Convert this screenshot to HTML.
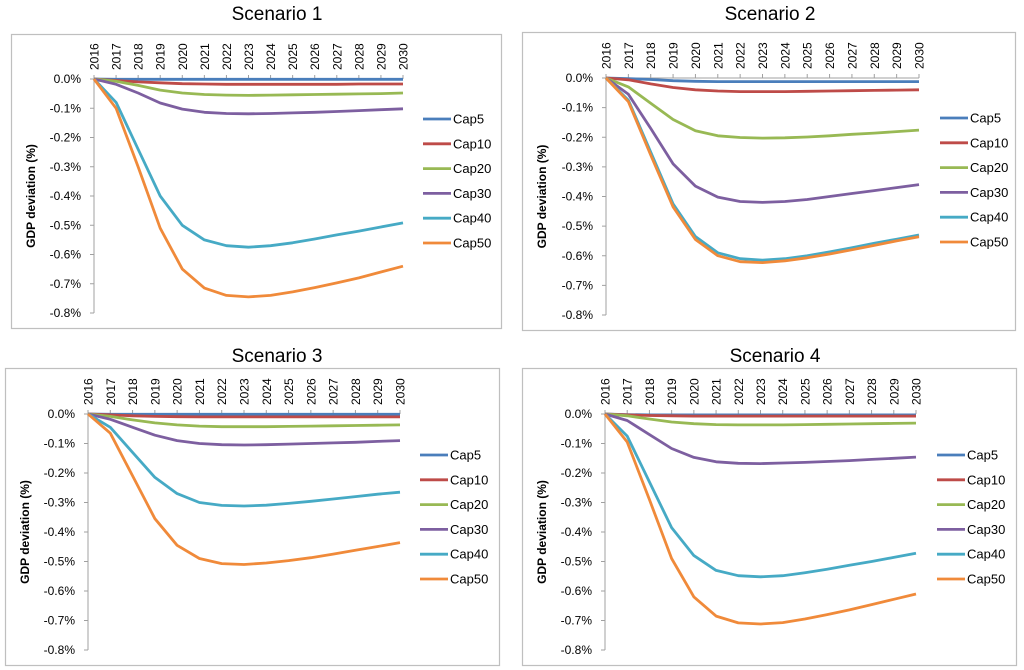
<!DOCTYPE html>
<html><head><meta charset="utf-8"><style>
body{margin:0;background:#fff;width:1024px;height:670px;overflow:hidden}
svg{display:block;font-family:"Liberation Sans",sans-serif}
</style></head><body>
<svg id="chart" width="1024" height="670"></svg>
<script>
const years=[2016,2017,2018,2019,2020,2021,2022,2023,2024,2025,2026,2027,2028,2029,2030];
const seriesNames=["Cap5","Cap10","Cap20","Cap30","Cap40","Cap50"];
const seriesColors=["#4a7ebb","#be4b48","#98b954","#7d5fa0","#46aac5","#f08a3a"];
const yTicks=[0,-0.1,-0.2,-0.3,-0.4,-0.5,-0.6,-0.7,-0.8];
const titles=["Scenario 1","Scenario 2","Scenario 3","Scenario 4"];
const s1Cap5=[0,-0.001,-0.001,-0.001,-0.001,-0.001,-0.001,-0.001,-0.001,-0.001,-0.001,-0.001,-0.001,-0.001,-0.001];
const s1Cap10=[0,-0.005,-0.01,-0.013,-0.016,-0.017,-0.018,-0.018,-0.018,-0.018,-0.018,-0.018,-0.017,-0.017,-0.017];
const s1Cap20=[0,-0.008,-0.022,-0.038,-0.048,-0.053,-0.055,-0.056,-0.055,-0.054,-0.053,-0.052,-0.051,-0.05,-0.048];
const s1Cap30=[0,-0.018,-0.048,-0.082,-0.103,-0.114,-0.118,-0.119,-0.118,-0.116,-0.114,-0.111,-0.108,-0.105,-0.102];
const s1Cap40=[0,-0.08,-0.24,-0.4,-0.5,-0.55,-0.57,-0.575,-0.57,-0.56,-0.547,-0.533,-0.52,-0.506,-0.492];
const s1Cap50=[0,-0.1,-0.3,-0.51,-0.65,-0.715,-0.74,-0.745,-0.74,-0.728,-0.713,-0.697,-0.68,-0.66,-0.64];
const s2Cap5=[0,-0.002,-0.005,-0.009,-0.011,-0.012,-0.012,-0.012,-0.012,-0.012,-0.012,-0.012,-0.012,-0.012,-0.012];
const s2Cap10=[0,-0.006,-0.02,-0.032,-0.04,-0.044,-0.046,-0.046,-0.046,-0.045,-0.044,-0.043,-0.042,-0.041,-0.04];
const s2Cap20=[0,-0.03,-0.085,-0.14,-0.178,-0.195,-0.201,-0.203,-0.202,-0.199,-0.195,-0.19,-0.186,-0.181,-0.176];
const s2Cap30=[0,-0.055,-0.17,-0.29,-0.365,-0.402,-0.417,-0.42,-0.417,-0.41,-0.4,-0.39,-0.38,-0.37,-0.36];
const s2Cap40=[0,-0.075,-0.25,-0.425,-0.535,-0.59,-0.61,-0.615,-0.61,-0.6,-0.587,-0.573,-0.558,-0.544,-0.53];
const s2Cap50=[0,-0.08,-0.26,-0.435,-0.545,-0.6,-0.62,-0.623,-0.617,-0.607,-0.594,-0.58,-0.565,-0.55,-0.536];
const s3Cap5=[0,-0.001,-0.001,-0.001,-0.001,-0.001,-0.001,-0.001,-0.001,-0.001,-0.001,-0.001,-0.001,-0.001,-0.001];
const s3Cap10=[0,-0.003,-0.006,-0.008,-0.009,-0.01,-0.01,-0.01,-0.01,-0.01,-0.01,-0.01,-0.01,-0.01,-0.01];
const s3Cap20=[0,-0.008,-0.02,-0.03,-0.037,-0.041,-0.043,-0.043,-0.043,-0.042,-0.041,-0.04,-0.039,-0.038,-0.037];
const s3Cap30=[0,-0.018,-0.045,-0.072,-0.09,-0.1,-0.104,-0.105,-0.104,-0.102,-0.1,-0.098,-0.096,-0.093,-0.09];
const s3Cap40=[0,-0.045,-0.13,-0.215,-0.27,-0.3,-0.31,-0.312,-0.309,-0.303,-0.296,-0.288,-0.28,-0.272,-0.265];
const s3Cap50=[0,-0.065,-0.21,-0.355,-0.445,-0.49,-0.507,-0.51,-0.505,-0.497,-0.487,-0.475,-0.462,-0.449,-0.436];
const s4Cap5=[0,-0.002,-0.003,-0.003,-0.003,-0.003,-0.003,-0.003,-0.003,-0.003,-0.003,-0.003,-0.003,-0.003,-0.003];
const s4Cap10=[0,-0.003,-0.005,-0.006,-0.007,-0.007,-0.007,-0.007,-0.007,-0.007,-0.007,-0.007,-0.007,-0.007,-0.007];
const s4Cap20=[0,-0.006,-0.017,-0.027,-0.033,-0.036,-0.037,-0.037,-0.037,-0.036,-0.035,-0.034,-0.033,-0.032,-0.031];
const s4Cap30=[0,-0.022,-0.07,-0.117,-0.147,-0.162,-0.167,-0.168,-0.166,-0.164,-0.161,-0.158,-0.154,-0.15,-0.146];
const s4Cap40=[0,-0.075,-0.23,-0.385,-0.48,-0.53,-0.548,-0.552,-0.548,-0.538,-0.526,-0.513,-0.5,-0.486,-0.472];
const s4Cap50=[0,-0.095,-0.29,-0.49,-0.62,-0.685,-0.708,-0.712,-0.707,-0.695,-0.68,-0.664,-0.646,-0.628,-0.61];
const scenarioData=[[s1Cap5,s1Cap10,s1Cap20,s1Cap30,s1Cap40,s1Cap50],[s2Cap5,s2Cap10,s2Cap20,s2Cap30,s2Cap40,s2Cap50],[s3Cap5,s3Cap10,s3Cap20,s3Cap30,s3Cap40,s3Cap50],[s4Cap5,s4Cap10,s4Cap20,s4Cap30,s4Cap40,s4Cap50]];

const layouts=[
 {fx:11,fy:34,fw:490,fh:294,x0:94,x1:403,y0:79,y1:313,lx:423,tx:277,ty:20,ry:119},
 {fx:522,fy:32,fw:493,fh:298,x0:606,x1:919,y0:78,y1:315,lx:940,tx:770,ty:20,ry:118},
 {fx:5,fy:368,fw:494,fh:297,x0:88,x1:400,y0:414,y1:650,lx:420,tx:277,ty:362,ry:455},
 {fx:522,fy:368,fw:494,fh:297,x0:605,x1:916,y0:414,y1:650,lx:937,tx:775,ty:362,ry:455}
];
const NS="http://www.w3.org/2000/svg";
const svg=document.getElementById('chart');
function mk(tag,attrs,parent,text){const e=document.createElementNS(NS,tag);for(const k in attrs)e.setAttribute(k,attrs[k]);if(text!==undefined)e.textContent=text;parent.appendChild(e);return e;}

layouts.forEach((L,p)=>{
  const g=mk('g',{},svg);
  
  
  const xS=i=>L.x0+(L.x1-L.x0)*i/(years.length-1);
  const yS=v=>L.y0+(L.y1-L.y0)*(v/-0.8);
  const t=mk('text',{x:L.tx,y:L.ty,'text-anchor':'middle','font-size':'19'},g,titles[p]);
  
  
  const fr=mk('rect',{x:L.fx+0.5,y:L.fy+0.5,width:L.fw,height:L.fh,fill:'none',stroke:'#bfbfbf','stroke-width':'1.2'},g);
  
  
  const ax=mk('line',{x1:L.x0,y1:L.y0,x2:L.x0,y2:L.y1,stroke:'#a0a0a0','stroke-width':'1'},g);
  
  
  yTicks.forEach(v=>{
    mk('line',{x1:L.x0-4,y1:yS(v),x2:L.x0,y2:yS(v),stroke:'#a0a0a0'},g);
    const tl=mk('text',{x:L.x0-13,y:yS(v)+4,'text-anchor':'end','font-size':'12',fill:'#000'},g,v.toFixed(1).replace('-0.0','0.0')+'%');
    
    
  });
  const xa=mk('line',{x1:L.x0,y1:L.y0,x2:L.x1,y2:L.y0,stroke:'#a0a0a0'},g);
  
  
  years.forEach((yr,i)=>{
    mk('line',{x1:xS(i),y1:L.y0-4,x2:xS(i),y2:L.y0,stroke:'#a0a0a0'},g);
    const x=xS(i)+4.5, y=L.y0-9;
    const tl=mk('text',{x:x,y:y,'text-anchor':'start','font-size':'12',transform:`rotate(-90 ${x} ${y})`},g,yr);
    
    
  });
  const yt=mk('text',{x:0,y:0,'text-anchor':'middle','font-size':'12','font-weight':'bold',transform:`translate(${L.fx+24},${(L.y0+L.y1)/2}) rotate(-90)`},g,'GDP deviation (%)');
  
  
  scenarioData[p].forEach((arr,s)=>{
    const pts=arr.map((v,i)=>xS(i).toFixed(1)+','+yS(v).toFixed(1)).join(' ');
    const pl=mk('polyline',{points:pts,fill:'none',stroke:seriesColors[s],'stroke-width':'2.8','stroke-linejoin':'round'},g);
    
    
    const ly=L.ry+s*24.8;
    const le=mk('g',{},g);
    
    
    mk('line',{x1:L.lx,y1:ly,x2:L.lx+28,y2:ly,stroke:seriesColors[s],'stroke-width':'2.8'},le);
    mk('text',{x:L.lx+30,y:ly+4.5,'font-size':'13'},le,seriesNames[s]);
  });
});
</script>
</body></html>
